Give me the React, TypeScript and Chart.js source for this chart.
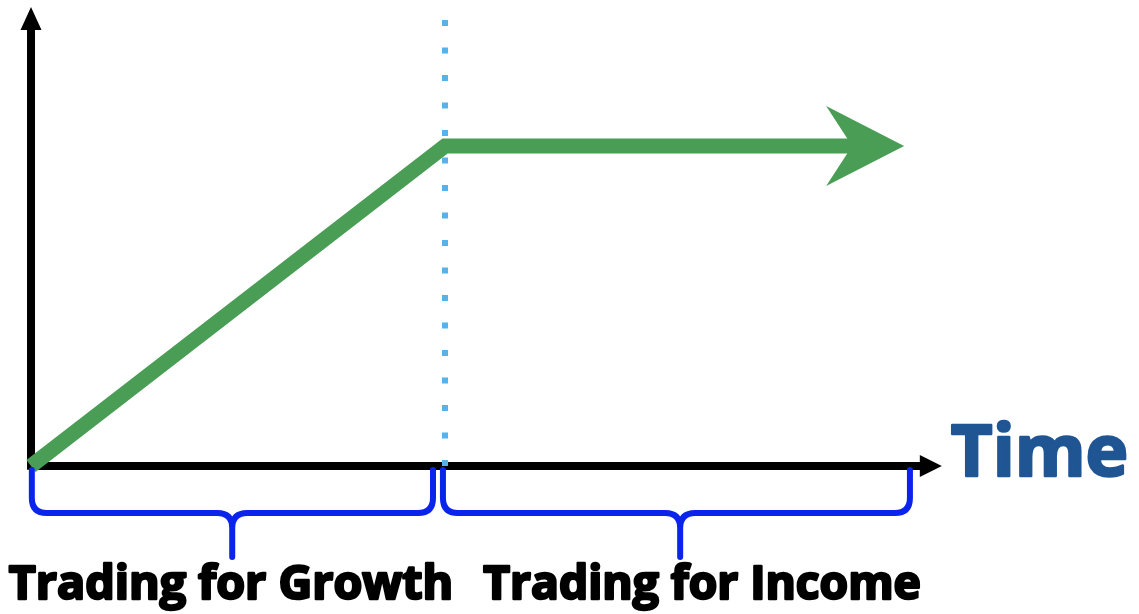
import React, { useEffect, useRef } from "react";
import { Chart, registerables } from "chart.js";

Chart.register(...registerables);

// Conceptual data (time units on x, value units on y)
const timePoints = [0, 10, 20.2];
const valueSeries = [0, 10, 10];
const growthArrowTip = 21.09;
const phaseBoundary = 10;
const boundaryTop = 14;
const timeAxisEnd = 22.0;
const valueAxisEnd = 14.34;
const phaseLabels = ["Trading for Growth", "Trading for Income"];
const phaseStarts = [0.02, 9.95];
const phaseEnds = [9.71, 21.23];
const phaseCenters = [4.86, 15.68];
const phaseLabelCenters = [4.83, 16.21];
const axisTitle = "Time";

const GREEN = "#4a9d55";
const BLACK = "#000000";
const BRACE = "#0a24ee";
const DOT = "#55b2ea";
const TITLE = "#1f5593";
const FONT = "'Open Sans', 'DejaVu Sans', sans-serif";

function fitText(ctx: any, text: string, x: number, y: number, width: number, align: string, color: string, stroke: number) {
  ctx.font = `bold 40px ${FONT}`;
  const w0 = ctx.measureText(text).width;
  const size = (40 * (width - stroke)) / w0;
  ctx.font = `bold ${size}px ${FONT}`;
  ctx.textAlign = align;
  ctx.textBaseline = "alphabetic";
  ctx.fillStyle = color;
  ctx.strokeStyle = color;
  ctx.lineWidth = stroke;
  ctx.lineJoin = "round";
  ctx.fillText(text, x, y);
  ctx.strokeText(text, x, y);
}

const drawPlugin = {
  id: "diagramExtras",
  afterDatasetsDraw(chart: any) {
    const { ctx, scales } = chart;
    const xs = scales.x;
    const ys = scales.y;
    const px = (t: number) => xs.getPixelForValue(t);
    const py = (v: number) => ys.getPixelForValue(v);
    ctx.save();

    // y axis arrowhead
    const yTipX = px(0);
    const yTipY = py(valueAxisEnd);
    ctx.fillStyle = BLACK;
    ctx.beginPath();
    ctx.moveTo(yTipX, yTipY);
    ctx.lineTo(yTipX + 10.5, yTipY + 23);
    ctx.lineTo(yTipX - 10.5, yTipY + 23);
    ctx.closePath();
    ctx.fill();

    // x axis arrowhead
    const xTipX = px(timeAxisEnd);
    const xTipY = py(0);
    ctx.beginPath();
    ctx.moveTo(xTipX, xTipY);
    ctx.lineTo(xTipX - 22, xTipY - 11);
    ctx.lineTo(xTipX - 22, xTipY + 11);
    ctx.closePath();
    ctx.fill();

    // green arrowhead
    const gx = px(growthArrowTip);
    const gy = py(valueSeries[valueSeries.length - 1]);
    ctx.fillStyle = GREEN;
    ctx.beginPath();
    ctx.moveTo(gx, gy);
    ctx.lineTo(gx - 78, gy - 40);
    ctx.lineTo(gx - 52, gy);
    ctx.lineTo(gx - 78, gy + 40);
    ctx.closePath();
    ctx.fill();

    // braces
    const axisY = py(0);
    const yTop = axisY + 4;
    const yH = axisY + 47;
    const yTip = axisY + 91;
    const r = 15;
    ctx.strokeStyle = BRACE;
    ctx.lineWidth = 6;
    ctx.lineCap = "round";
    ctx.lineJoin = "round";
    for (let i = 0; i < phaseLabels.length; i++) {
      const x0 = px(phaseStarts[i]);
      const x1 = px(phaseEnds[i]);
      const cx = px(phaseCenters[i]);
      ctx.beginPath();
      ctx.moveTo(x0, yTop);
      ctx.lineTo(x0, yH - r);
      ctx.quadraticCurveTo(x0, yH, x0 + r, yH);
      ctx.lineTo(cx - r, yH);
      ctx.quadraticCurveTo(cx, yH, cx, yH + r);
      ctx.lineTo(cx, yTip);
      ctx.moveTo(cx, yH + r);
      ctx.quadraticCurveTo(cx, yH, cx + r, yH);
      ctx.lineTo(x1 - r, yH);
      ctx.quadraticCurveTo(x1, yH, x1, yH - r);
      ctx.lineTo(x1, yTop);
      ctx.stroke();
    }

    // labels
    fitText(ctx, phaseLabels[0], px(phaseLabelCenters[0]), axisY + 133, 447, "center", BLACK, 2.5);
    fitText(ctx, phaseLabels[1], px(phaseLabelCenters[1]), axisY + 133, 440, "center", BLACK, 2.5);
    fitText(ctx, axisTitle, px(timeAxisEnd) + 9, axisY + 10, 180, "left", TITLE, 2.5);

    ctx.restore();
  },
};

export default function App() {
  const ref = useRef<HTMLCanvasElement | null>(null);
  useEffect(() => {
    document.body.style.margin = "0";
    const canvas = ref.current!;
    const chart = new Chart(canvas, {
      type: "line",
      data: {
        datasets: [
          {
            label: "boundary",
            data: [
              { x: phaseBoundary, y: 0 },
              { x: phaseBoundary, y: boundaryTop },
            ],
            borderColor: DOT,
            borderWidth: 6,
            borderDash: [6, 21.5],
            borderCapStyle: "butt",
            pointRadius: 0,
            fill: false,
            order: 0,
            clip: false,
          } as any,
          {
            label: "growth",
            data: timePoints.map((t, i) => ({ x: t, y: valueSeries[i] })),
            borderColor: GREEN,
            borderWidth: 15,
            borderCapStyle: "butt",
            borderJoinStyle: "miter",
            pointRadius: 0,
            fill: false,
            order: 1,
            clip: false,
          } as any,
          {
            label: "timeAxis",
            data: [
              { x: 0, y: 0 },
              { x: timeAxisEnd - 0.4, y: 0 },
            ],
            borderColor: BLACK,
            borderWidth: 8,
            borderCapStyle: "butt",
            pointRadius: 0,
            fill: false,
            order: 2,
            clip: false,
          } as any,
          {
            label: "valueAxis",
            data: [
              { x: 0, y: -0.12 },
              { x: 0, y: valueAxisEnd - 0.6 },
            ],
            borderColor: BLACK,
            borderWidth: 8,
            borderCapStyle: "butt",
            pointRadius: 0,
            fill: false,
            order: 2,
            clip: false,
          } as any,
        ],
      },
      options: {
        animation: false,
        responsive: false,
        layout: { padding: 0 },
        scales: {
          x: { type: "linear", min: -0.749, max: 26.763, display: false },
          y: { type: "linear", min: -4.625, max: 14.5625, display: false },
        },
        plugins: {
          legend: { display: false },
          tooltip: { enabled: false },
        },
      },
      plugins: [drawPlugin],
    });
    return () => chart.destroy();
  }, []);
  return (
    <div style={{ position: "absolute", left: 0, top: 0, width: 1139, height: 614, background: "#fff" }}>
      <canvas ref={ref} width={1139} height={614} />
    </div>
  );
}
